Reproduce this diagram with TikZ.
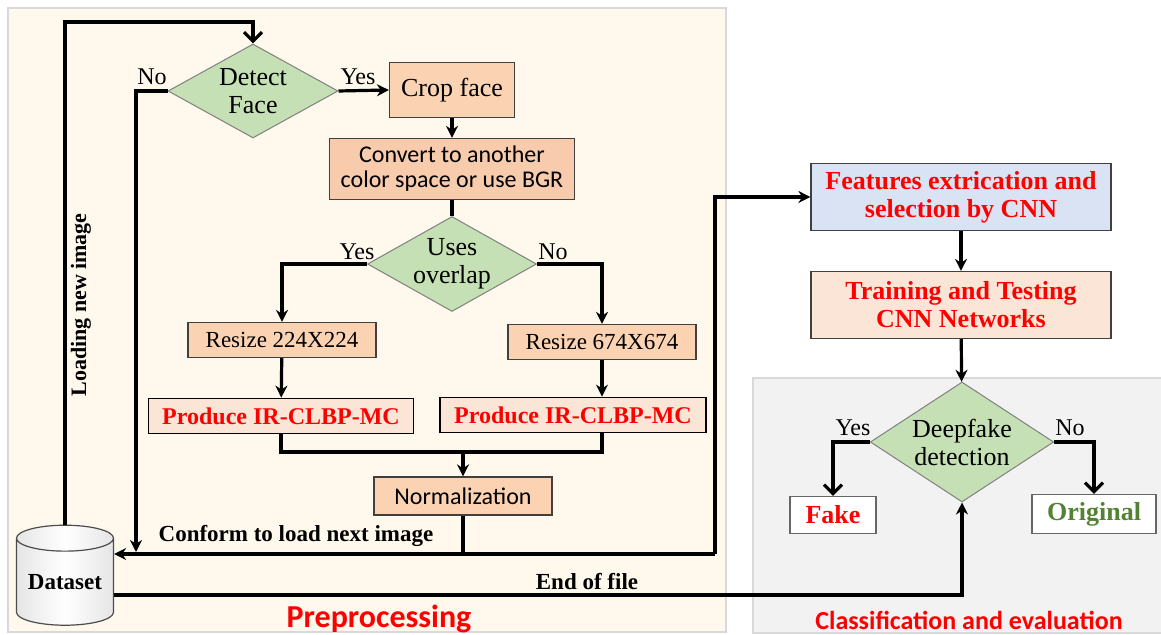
\documentclass[tikz,border=0pt]{standalone}
\usepackage{fontspec}
\setmainfont{Liberation Serif}
\newfontfamily\calibri{Carlito}
\usetikzlibrary{shapes.geometric,arrows.meta}
\definecolor{cream}{HTML}{FFF8EC}
\definecolor{panelgray}{HTML}{F2F2F2}
\definecolor{panelline}{HTML}{D9D9D9}
\definecolor{leaf}{HTML}{C5E0B4}
\definecolor{peach}{HTML}{FBD3B3}
\definecolor{salmon}{HTML}{F8CBAD}
\definecolor{blush}{HTML}{FBE5D6}
\definecolor{sky}{HTML}{DAE3F3}
\definecolor{olive}{HTML}{548235}
\begin{document}
\begin{tikzpicture}[x=0.5pt, y=-0.5pt,
	box/.style={draw=black!75, line width=0.6pt, fill=peach, inner sep=0pt, align=center},
	dec/.style={diamond, draw=black!50, line width=0.5pt, fill=leaf, inner sep=0pt, aspect=1.8, align=center, font=\fontsize{13}{14}\selectfont},
	redbox/.style={box, draw=black, line width=0.9pt, fill=blush, text=red, font=\bfseries\fontsize{12}{14}\selectfont},
	tag/.style={font=\fontsize{12}{14}\selectfont},
	line/.style={line width=1.6pt},
	arr/.style={line, -{Stealth[length=6pt,width=6pt]}},
	arrv/.style={line, -{Straight Barb[length=4.5pt,width=9pt,line width=1.6pt]}}]

				\useasboundingbox (0,0) rectangle (1161,635);
				\draw [panelline, fill=cream, line width=1pt] (8,8) rectangle (726,632);
				\draw [panelline, fill=panelgray, line width=1pt] (753,378) rectangle (1170,633);

				\node [dec, minimum width=85pt, minimum height=47pt] (detect) at (253,91) {Detect\\Face};
				\node [box, minimum width=62.5pt, minimum height=27.5pt, font=\fontsize{13}{14}\selectfont] (crop) at (452,90) {Crop face};
				\node [box, fill=salmon, minimum width=122.5pt, minimum height=30.5pt, font=\calibri\fontsize{12}{12.5}\selectfont] (convert) at (452,169) {Convert to another\\color space or use BGR};
				\node [dec, minimum width=84pt, minimum height=47.5pt] (overlap) at (452,264) {Uses\\overlap};
				\node [box, minimum width=94pt, minimum height=17.5pt, font=\fontsize{11.5}{14}\selectfont] (rsa) at (282,340) {Resize 224X224};
				\node [box, minimum width=94pt, minimum height=17.5pt, font=\fontsize{11.5}{14}\selectfont] (rsb) at (602,342) {Resize 674X674};
				\node [redbox, minimum width=132.5pt, minimum height=17.5pt] (pra) at (281,416) {Produce IR-CLBP-MC};
				\node [redbox, minimum width=133pt, minimum height=17.5pt] (prb) at (573,415) {Produce IR-CLBP-MC};
				\node [box, minimum width=89pt, minimum height=19pt, font=\calibri\fontsize{12}{14}\selectfont] (norm) at (463,496) {Normalization};
				\node [cylinder, shape border rotate=90, aspect=0.35, draw=black!70, line width=0.6pt, left color=gray!20, right color=gray!20, middle color=white, minimum width=48.5pt, minimum height=50pt, inner sep=0pt, font=\bfseries\fontsize{11.5}{14}\selectfont] (dataset) at (65,582) {\raisebox{-5pt}{Dataset}};

				\node [box, fill=sky, text=red, minimum width=150pt, minimum height=33.5pt, font=\bfseries\fontsize{13}{14}\selectfont] (feat) at (961,197) {Features extrication and\\selection by CNN};
				\node [box, fill=blush, text=red, minimum width=150pt, minimum height=33.5pt, font=\bfseries\fontsize{13}{14}\selectfont] (train) at (961,305) {Training and Testing\\CNN Networks};
				\node [dec, minimum width=86.5pt, minimum height=60pt] (deep) at (962,442) {Deepfake\\detection};
				\node [box, fill=white, draw=black!60, text=red, minimum width=43pt, minimum height=18.5pt, font=\bfseries\fontsize{13}{14}\selectfont] (fake) at (833,515) {Fake};
				\node [box, fill=white, draw=black!60, text=olive, minimum width=62pt, minimum height=19.5pt, font=\bfseries\fontsize{13}{14}\selectfont] (orig) at (1094,514) {Original};

				\node [tag] (noA) at (152,77) {No};
				\node [tag] (yesA) at (358,77) {Yes};
				\node [tag] (yesB) at (357,252) {Yes};
				\node [tag] (noB) at (553,252) {No};
				\node [tag] (yesC) at (853,428) {Yes};
				\node [tag] (noC) at (1070,428) {No};
				\node [font=\bfseries\fontsize{11.5}{14}\selectfont] (conform) at (296,536) {Conform to load next image};
				\node [font=\bfseries\fontsize{11.5}{14}\selectfont] (eoflabel) at (587,582) {End of file};
				\node [rotate=90, font=\bfseries\fontsize{11}{14}\selectfont] (loading) at (81,305) {Loading new image};
				\node [text=red, font=\calibri\bfseries\fontsize{16}{18}\selectfont] (pre) at (379,619) {Preprocessing};
				\node [text=red, font=\calibri\bfseries\fontsize{13}{15}\selectfont] (cls) at (969,620) {Classification and evaluation};

				\coordinate (looptop) at (253,22);
				\coordinate (nodown) at (136,552);
				\coordinate (back) at (715,554);
				\coordinate (merge) at (463,452);
				\coordinate (eof) at (964,595);

				\draw [arrv] (dataset.north) |- (looptop) -- (detect.north);
				\draw [arr] (detect.west) -| (nodown);
				\draw [arr] (detect.east) -- (crop.west);
				\draw [arr] (crop) -- (convert);
				\draw [line] (convert) -- (overlap);
				\draw [arr] (overlap.west) -| (rsa.north);
				\draw [arr] (overlap.east) -| (rsb.north);
				\draw [arr] (rsa) -- (pra);
				\draw [arr] (rsb.south) -- (rsb.south |- prb.north);
				\draw [line] (pra.south) |- (merge) -| (rsb.south |- prb.south);
				\draw [arr] (merge) -- (norm.north);
				\draw [line] (norm.south) -- (norm.south |- back);
				\draw [arr] (back) -- (dataset.east |- back);
				\draw [arr] (back) |- (feat.west);
				\draw [arr] (feat) -- (train);
				\draw [arr] (train) -- (deep);
				\draw [arrv] (deep.west) -| (fake.north);
				\draw [arrv] (deep.east) -| (orig.north);
				\draw [arr] (dataset.east |- eof) -| (deep.south);
			\end{tikzpicture}
\end{document}
